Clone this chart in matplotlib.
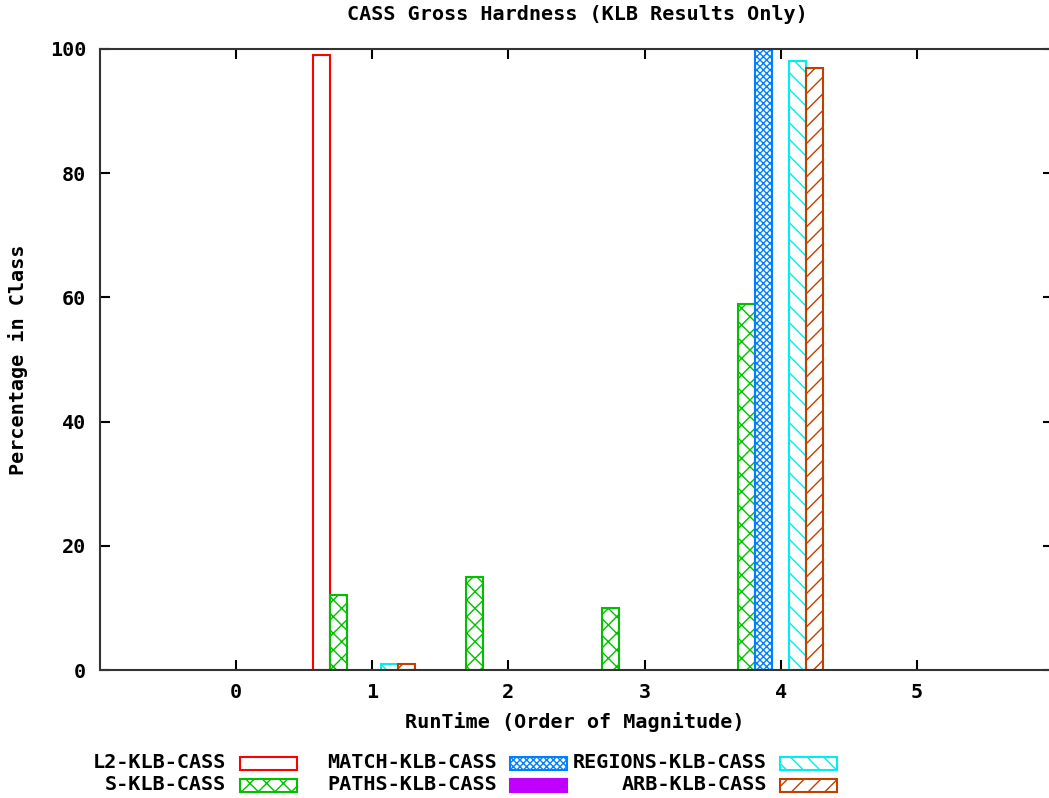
import matplotlib.pyplot as plt
from matplotlib.patches import Rectangle

# bar values per series at runtime orders 0..5
orders = [0, 1, 2, 3, 4, 5]
names = ["L2-KLB-CASS", "S-KLB-CASS", "MATCH-KLB-CASS",
         "PATHS-KLB-CASS", "REGIONS-KLB-CASS", "ARB-KLB-CASS"]
l2 = [0, 99, 0, 0, 0, 0]
s = [0, 12, 15, 10, 59, 0]
match = [0, 0, 0, 0, 100, 0]
paths = [0, 0, 0, 0, 0, 0]
regions = [0, 1, 0, 0, 98, 0]
arb = [0, 1, 0, 0, 97, 0]
series = [l2, s, match, paths, regions, arb]

colors = ["#ff0000", "#00c000", "#0080ff", "#c000ff", "#00eeee", "#c04000"]
hatches = [None, "xx", "xxxxx", None, "\\\\", "//"]
fills = [False, False, False, True, False, False]
offsets = [-0.375, -0.25, -0.125, 0.0, 0.125, 0.25]
width = 0.125

font = {"family": "DejaVu Sans Mono", "weight": "bold", "size": 14.5}
plt.rcParams["hatch.linewidth"] = 1.0

fig = plt.figure(figsize=(10.49, 7.98), dpi=100)
ax = fig.add_axes([100 / 1049, 1 - 670 / 798, 953 / 1049, 621 / 798])

for vals, c, h, f, off in zip(series, colors, hatches, fills, offsets):
    xs = [o + off for o in orders]
    for x, v in zip(xs, vals):
        if v <= 0:
            continue
        ax.bar(x, v, width=width, align="center", facecolor=c if f else "none",
               edgecolor=c, hatch=h, linewidth=1.5)

ax.set_xlim(-1, 6)
ax.set_ylim(0, 100)
ax.set_xticks(orders)
ax.set_xticklabels([str(o) for o in orders], fontdict=font)
ax.set_yticks([0, 20, 40, 60, 80, 100])
ax.set_yticklabels(["0", "20", "40", "60", "80", "100"], fontdict=font)
ax.tick_params(direction="in", length=7, width=1.5, top=True, right=True)
ax.tick_params(axis="x", pad=9)
ax.tick_params(axis="y", pad=10)
for sp in ax.spines.values():
    sp.set_linewidth(1.5)
    sp.set_color("#333333")

fig.text(577 / 1049, 1 - 15 / 798, "CASS Gross Hardness (KLB Results Only)",
         ha="center", va="center", fontdict=font)
fig.text(575 / 1049, 1 - 722 / 798, "RunTime (Order of Magnitude)",
         ha="center", va="center", fontdict=font)
fig.text(18 / 1049, 1 - 360 / 798, "Percentage in Class", rotation=90,
         ha="center", va="center", fontdict=font)

# legend drawn by hand, gnuplot style
text_right = [226, 226, 497, 497, 767, 767]
box_left = [240, 240, 510, 510, 780, 780]
row_y = [763, 785, 763, 785, 763, 785]
for i in range(len(names)):
    fig.text(text_right[i] / 1049, 1 - row_y[i] / 798, names[i],
             ha="right", va="center", fontdict=font)
    r = Rectangle((box_left[i] / 1049, 1 - (row_y[i] + 6.5) / 798),
                  57 / 1049, 13 / 798, transform=fig.transFigure,
                  facecolor=colors[i] if fills[i] else "none",
                  edgecolor=colors[i], hatch=hatches[i], linewidth=1.5)
    fig.patches.append(r)

fig.savefig("out.png", dpi=100)
